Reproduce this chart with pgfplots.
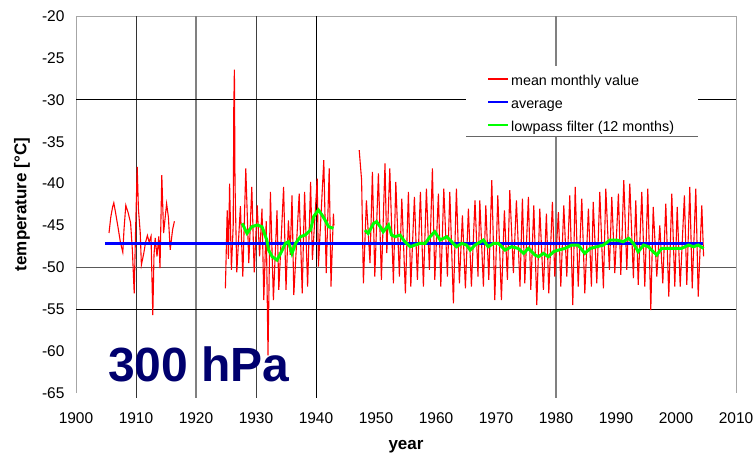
\documentclass[border=0pt]{standalone}
\usepackage{fontspec}
\setmainfont{Liberation Sans}
\usepackage{pgfplots}
\pgfplotsset{compat=1.18}
\definecolor{navytxt}{RGB}{0,0,110}
\definecolor{lpgreen}{RGB}{0,255,0}
\definecolor{avgblue}{RGB}{0,0,255}
\definecolor{monred}{RGB}{255,0,0}
\begin{document}
\begin{tikzpicture}
\useasboundingbox (0,0) rectangle (756bp,-457bp);
\begin{axis}[
  at={(76bp,-393bp)}, anchor=south west,
  scale only axis, width=660bp, height=377bp,
  xmin=1900, xmax=2010, ymin=-65, ymax=-20,
  xtick={1900,1910,...,2010}, ytick={-65,-60,...,-20},
  axis line style={draw=none}, major tick length=0pt,
  clip=false,
  unbounded coords=jump,
  /pgf/number format/assume math mode=true,
  /pgf/number format/1000 sep={},
  tick label style={font=\fontsize{15.5bp}{18bp}\selectfont},
  yticklabel style={xshift=-8bp},
  xticklabel style={yshift=-16bp},
  xlabel={year}, ylabel={temperature [°C]},
  label style={font=\fontsize{17bp}{20bp}\selectfont\bfseries},
  xlabel style={at={([yshift=-54bp]rel axis cs:0.5,0)}, anchor=center},
  ylabel style={at={([xshift=-54bp]rel axis cs:0,0.5)}, anchor=center},
  legend style={at={(rel axis cs:0.6242,0.8440)}, anchor=north west,
    draw=none, fill=none, inner sep=0pt, row sep=10bp, column sep=3bp,
    font=\fontsize{14.3bp}{16bp}\selectfont,
    nodes={inner sep=0pt, text height=10bp, text depth=3bp}},
  legend cell align=left,
  legend image code/.code={\path[draw=none, fill=none] (0bp,0bp) -- (20bp,0bp);},
]
% frame and the few gridlines of the original
\draw[black!35, line width=1bp] (axis cs:1900,-65) -- (axis cs:1900,-20) -- (axis cs:2010,-20) -- (axis cs:2010,-65);
\draw[black!80, line width=0.9bp] (axis cs:1910,-20) -- (axis cs:1910,-65.6);
\draw[black!50, line width=1.2bp] (axis cs:1920,-20) -- (axis cs:1920,-65.6);
\draw[black!75, line width=0.9bp] (axis cs:1930,-20) -- (axis cs:1930,-65.6);
\draw[black, line width=0.9bp] (axis cs:1940,-20) -- (axis cs:1940,-65.6);
\draw[black!50, line width=1.2bp] (axis cs:1980,-20) -- (axis cs:1980,-65.6);
\draw[black, line width=0.9bp] (axis cs:1900,-30) -- (axis cs:2010,-30);
\draw[black!65, line width=0.9bp] (axis cs:1900,-50) -- (axis cs:2010,-50);
\draw[black, line width=0.9bp] (axis cs:1900,-55) -- (axis cs:2010,-55);
% legend box and its line samples
\fill[white] (axis cs:1965,-34.32) rectangle (axis cs:2003.7,-25.97);
\draw[black!60, line width=0.9bp] (axis cs:1965,-34.32) -- (axis cs:2003.7,-34.32);
\draw[monred, line width=1.2bp] (axis cs:1968.67,-27.52) -- (axis cs:1972.0,-27.52);
\draw[avgblue, line width=1.1bp] (axis cs:1968.67,-30.27) -- (axis cs:1972.0,-30.27);
\draw[lpgreen, line width=2.4bp] (axis cs:1968.67,-33.01) -- (axis cs:1972.0,-33.01);

% mean monthly value
\addplot[color=monred, line width=1.1bp] coordinates {
(1905.5,-45.9) (1905.8,-44.0) (1906.1,-42.8) (1906.3,-42.3) (1906.6,-43.5) (1907.0,-45.2)
(1907.4,-47.0) (1907.8,-48.2) (1908.0,-45.5) (1908.3,-42.6) (1908.7,-43.5) (1909.1,-44.7)
(1909.4,-48.0) (1909.7,-53.1) (1909.9,-46.5) (1910.2,-38.0) (1910.4,-43.0) (1910.7,-45.8)
(1910.9,-49.7) (1911.3,-48.3) (1911.6,-47.0) (1911.9,-46.2) (1912.2,-47.0) (1912.5,-46.3)
(1912.8,-55.7) (1913.0,-48.5) (1913.2,-46.5) (1913.5,-48.7) (1913.8,-46.3) (1914.0,-50.1)
(1914.3,-39.0) (1914.6,-45.9) (1915.1,-42.4) (1915.4,-44.0) (1915.7,-47.9) (1916.1,-45.5)
(1916.4,-44.5)
(1920,nan)
(1924.9,-52.5) (1925.2,-43.2) (1925.4,-49.0) (1925.6,-40.0) (1925.9,-50.3) (1926.2,-45.0)
(1926.3,-30.8) (1926.4,-26.4) (1926.5,-40.0) (1926.8,-50.6) (1927.4,-42.7) (1927.8,-51.1)
(1928.3,-38.2) (1928.8,-49.5) (1929.3,-40.4) (1929.7,-50.6) (1930.2,-42.6) (1930.6,-48.7)
(1931.0,-43.0) (1931.3,-53.9) (1931.7,-44.5) (1932.0,-60.5) (1932.4,-41.0) (1932.9,-53.9)
(1933.5,-43.2) (1933.8,-52.7) (1934.6,-40.4) (1935.0,-52.7) (1935.4,-44.4) (1935.7,-48.5)
(1936.0,-41.4) (1936.3,-53.3) (1937.2,-41.2) (1937.7,-53.1) (1938.1,-41.0) (1938.6,-52.3)
(1939.1,-39.8) (1939.4,-49.1) (1940.2,-39.4) (1940.4,-49.9) (1941.3,-37.2) (1941.7,-50.7)
(1942.2,-38.2) (1942.5,-52.3) (1942.9,-43.6) (1943.0,-45.0)
(1945,nan)
(1947.2,-36.0) (1947.6,-39.6) (1947.9,-51.9) (1948.4,-42.0) (1949.0,-49.5) (1949.4,-38.6)
(1949.8,-51.1) (1950.4,-38.8) (1950.9,-51.5) (1951.5,-37.6) (1951.8,-48.3) (1952.3,-38.2)
(1952.9,-51.9) (1953.3,-39.8) (1953.9,-51.1) (1954.3,-41.8) (1954.9,-53.1) (1955.4,-41.0)
(1955.8,-52.3) (1956.4,-41.6) (1956.9,-51.5) (1957.4,-41.0) (1957.9,-52.3) (1958.4,-40.6)
(1958.9,-50.3) (1959.4,-38.2) (1959.8,-51.5) (1960.4,-41.2) (1960.8,-52.3) (1961.3,-40.6)
(1961.9,-51.1) (1962.3,-41.0) (1962.9,-54.3) (1963.4,-40.6) (1963.9,-51.9) (1964.4,-43.8)
(1964.9,-52.5) (1965.4,-43.0) (1965.9,-52.3) (1966.5,-42.0) (1967.0,-51.1) (1967.3,-42.0)
(1967.9,-52.3) (1968.3,-42.6) (1968.8,-51.5) (1969.3,-39.6) (1969.8,-53.9) (1970.3,-41.4)
(1970.9,-53.9) (1971.4,-43.2) (1971.9,-51.5) (1972.3,-40.8) (1972.9,-50.7) (1973.4,-42.0)
(1974.0,-52.3) (1974.4,-41.8) (1974.8,-51.9) (1975.4,-41.6) (1975.8,-52.7) (1976.3,-42.6)
(1976.8,-54.5) (1977.3,-43.0) (1977.9,-52.7) (1978.4,-43.6) (1978.8,-53.1) (1979.4,-42.2)
(1979.8,-51.1) (1980.4,-43.4) (1980.8,-52.3) (1981.3,-42.6) (1981.8,-51.1) (1982.3,-41.4)
(1982.8,-54.5) (1983.2,-40.4) (1983.7,-52.3) (1984.3,-41.8) (1984.8,-53.1) (1985.4,-43.0)
(1985.9,-52.3) (1986.2,-42.2) (1986.8,-51.9) (1987.3,-41.0) (1987.9,-52.5) (1988.3,-40.6)
(1988.9,-50.3) (1989.3,-41.6) (1989.8,-50.7) (1990.4,-41.2) (1990.8,-50.9) (1991.3,-39.6)
(1991.8,-50.3) (1992.3,-40.0) (1992.9,-51.3) (1993.3,-42.0) (1993.7,-52.1) (1994.3,-41.0)
(1994.8,-52.3) (1995.3,-40.6) (1995.8,-55.1) (1996.2,-42.8) (1996.8,-51.1) (1997.3,-45.0)
(1997.8,-51.9) (1998.3,-42.4) (1998.8,-53.5) (1999.3,-41.2) (1999.8,-52.3) (2000.2,-42.8)
(2000.7,-52.3) (2001.4,-41.4) (2001.8,-52.1) (2002.3,-40.4) (2002.7,-52.5) (2003.3,-40.6)
(2003.7,-53.5) (2004.3,-42.6) (2004.6,-48.7)
};

% average
\addplot[avgblue, line width=3bp] coordinates {(1904.8,-47.1) (2004.5,-47.1)};

% lowpass filter (12 months)
\addplot[lpgreen, line width=3bp] coordinates {
(1927.7,-44.75) (1928.5,-45.94) (1929.3,-45.15) (1930.2,-44.95) (1931.0,-45.15) (1931.8,-46.74)
(1932.1,-47.93) (1932.7,-48.73) (1933.5,-49.13) (1934.1,-48.33) (1934.9,-47.14) (1935.4,-46.94)
(1936.0,-48.33) (1936.6,-47.14) (1937.4,-46.34) (1938.2,-46.14) (1939.1,-45.54) (1939.6,-43.95)
(1940.4,-43.16) (1941.0,-43.75) (1941.5,-44.35) (1942.1,-45.15) (1942.9,-45.35)
(1945,nan)
(1948.2,-45.55) (1948.4,-45.75) (1948.7,-45.95) (1949.6,-44.75) (1950.1,-44.55) (1950.7,-45.15)
(1951.2,-45.75) (1952.1,-44.95) (1952.6,-46.15) (1953.2,-46.34) (1954.0,-46.15) (1954.8,-46.94)
(1955.7,-47.54) (1956.5,-47.34) (1957.3,-47.14) (1958.2,-47.14) (1959.0,-46.34) (1959.8,-45.75)
(1960.7,-46.74) (1961.8,-46.34) (1962.6,-46.94) (1963.4,-47.54) (1964.3,-47.14) (1965.1,-47.34)
(1965.7,-47.94) (1966.5,-47.34) (1967.9,-46.74) (1968.7,-47.54) (1969.6,-47.14) (1970.4,-47.14)
(1971.5,-47.94) (1972.6,-47.54) (1973.7,-47.74) (1974.6,-48.33) (1975.4,-47.74) (1976.5,-48.53)
(1977.1,-48.73) (1977.9,-48.33) (1978.7,-48.73) (1979.6,-48.13) (1980.4,-47.94) (1981.5,-47.74)
(1982.6,-47.34) (1983.7,-47.34) (1984.8,-48.33) (1985.7,-47.74) (1986.8,-47.54) (1987.9,-47.34)
(1989.0,-46.74) (1990.1,-46.74) (1991.2,-46.94) (1992.1,-46.54) (1992.9,-47.14) (1993.7,-48.13)
(1994.6,-47.34) (1995.4,-47.54) (1996.2,-48.13) (1996.8,-48.53) (1997.6,-47.74) (1998.7,-47.74)
(1999.8,-47.74) (2000.9,-47.74) (2002.1,-47.34) (2002.9,-47.54) (2003.7,-47.34) (2004.6,-47.74)
};

\node[anchor=base west, inner sep=0pt, text=navytxt,
  font=\fontsize{48bp}{50bp}\selectfont\bfseries] at (axis cs:1905.33,-63.65) {300 hPa};

\legend{mean monthly value, average, lowpass filter (12 months)}
\end{axis}
\end{tikzpicture}
\end{document}
